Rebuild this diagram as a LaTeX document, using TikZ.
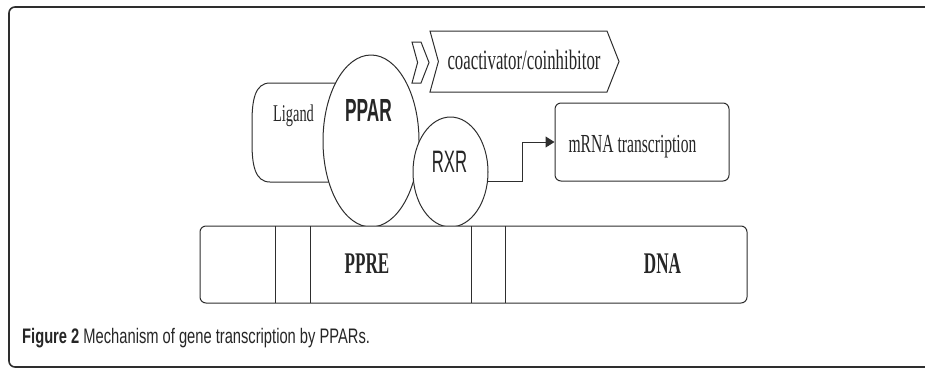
\documentclass[tikz,border=0pt]{standalone}
\usepackage{fontspec}
\usepackage{tikz}
\usetikzlibrary{arrows.meta,shapes.geometric}
\newfontfamily\serifnarrow[FakeStretch=0.6]{Liberation Serif}
\newfontfamily\serifgras[FakeStretch=0.57]{Liberation Serif}
\newfontfamily\sansnarrow[FakeStretch=0.54]{Liberation Sans}
\newfontfamily\legende[FakeStretch=0.7]{Liberation Sans}
\definecolor{ligne}{HTML}{2E2E2E}
\tikzset{
	trait/.style={draw=ligne, line width=1pt},
	forme/.style={trait, fill=white, inner sep=0pt},
	texte/.style={anchor=base, inner sep=0pt, text=black!85}
}
\newcommand{\chevron}[5] % {x}{y haut}{largeur}{hauteur}{pointe}
{
	\draw [trait, fill=white] (#1,#2) -- (#1+#3,#2) -- (#1+#3+#5,#2+#4/2) -- (#1+#3,#2+#4) -- (#1,#2+#4) -- (#1+0.7*#5,#2+#4/2) -- cycle;
}
\begin{document}
\begin{tikzpicture}[x=1pt, y=-1pt]
		\useasboundingbox (0,0) rectangle (925,370);
		\draw [draw=ligne, line width=1.6pt, rounded corners=6pt] (935,7) -- (9,7) -- (9,367) -- (935,367);
		
		% ligand derriere PPAR
		\draw [trait] (345,83) -- (270,83) .. controls (255,83) and (252,100) .. (252,122) -- (252,143) .. controls (252,165) and (255,182) .. (270,182) -- (345,182);
		\node [forme, ellipse, minimum width=96pt, minimum height=172pt] (ppar) at (371,141) {};
		\node [forme, ellipse, minimum width=75pt, minimum height=110pt] (rxr) at (450.5,172) {};
		
		\chevron{412}{42}{9}{41}{8}
		\chevron{430}{31}{177}{61}{12}
		
		\node [forme, rounded corners=6pt, minimum width=174pt, minimum height=78pt] (mrna) at (642,142) {};
		\node [forme, rounded corners=6pt, minimum width=547pt, minimum height=77pt] (dna) at (473.5,264.5) {};
		\foreach \x in {275,310,471,505}
			\draw [trait] (\x,226) -- (\x,303);
		
		\coordinate (coude) at (522,142);
		\draw [trait, -{Triangle[length=9pt,width=11pt]}] (rxr.-14) -| (coude) -- (mrna.west);
		
		\node [texte, font=\serifnarrow\fontsize{24}{26}\selectfont] (ligandtxt) at (293.5,121) {Ligand};
		\node [texte, font=\sansnarrow\bfseries\fontsize{32}{34}\selectfont] (ppartxt) at (368.5,121) {PPAR};
		\node [texte, font=\sansnarrow\fontsize{31}{33}\selectfont] (rxrtxt) at (449.5,172) {RXR};
		\node [texte, font=\serifnarrow\fontsize{28}{30}\selectfont] (coacttxt) at (524,69) {coactivator/coinhibitor};
		\node [texte, font=\serifnarrow\fontsize{26}{28}\selectfont] (mrnatxt) at (632.5,152) {mRNA transcription};
		\node [texte, font=\serifgras\bfseries\fontsize{30}{32}\selectfont] (ppretxt) at (367,273) {PPRE};
		\node [texte, font=\serifgras\bfseries\fontsize{30}{32}\selectfont] (dnatxt) at (662.5,273) {DNA};
		
		\node [texte, anchor=base west, font=\legende\fontsize{21}{23}\selectfont] (legende) at (22,343) {\textbf{Figure 2} Mechanism of gene transcription by PPARs.};
	\end{tikzpicture}
\end{document}
